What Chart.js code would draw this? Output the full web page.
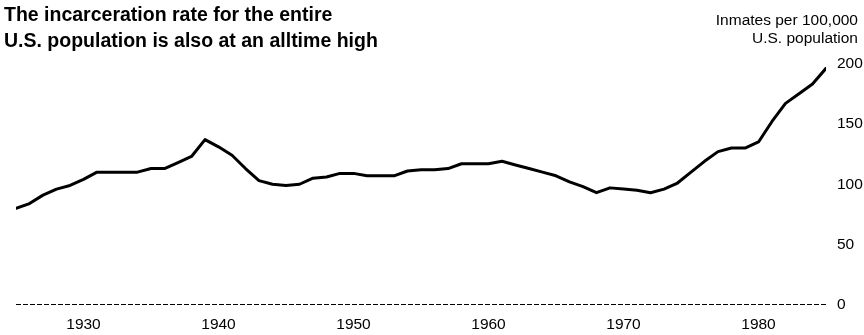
<!DOCTYPE html>
<html>
<head>
<meta charset="utf-8">
<script src="https://cdn.jsdelivr.net/npm/chart.js@4.4.1/dist/chart.umd.min.js"></script>
<style>
  html, body { margin: 0; padding: 0; background: #fff; }
  #wrap { position: relative; width: 864px; height: 335px; }
  #title {
    position: absolute; left: 4px; top: 1px;
    font: bold 19.5px "Liberation Sans", Arial, sans-serif;
    line-height: 26px; color: #000;
  }
  #unit {
    position: absolute; right: 6px; top: 10.5px; text-align: right;
    font: 15.5px "Liberation Sans", Arial, sans-serif;
    line-height: 18px; color: #000;
  }
</style>
</head>
<body>
<div id="wrap">
  <canvas id="rateChart" width="864" height="335"></canvas>
  <div id="title">The incarceration rate for the entire<br>U.S. population is also at an alltime high</div>
  <div id="unit">Inmates per 100,000<br>U.S. population</div>
</div>
<script>
// Inmates per 100,000 U.S. population
const years = [];
for (let y = 1925; y <= 1985; y++) years.push(y);
const rates = [
  80, 84, 91, 96, 99, 104, 110, 110, 110, 110,      // 1925-1934
  113, 113, 118, 123, 137, 131, 124, 113, 103, 100, // 1935-1944
  99, 100, 105, 106, 109, 109, 107, 107, 107, 111,  // 1945-1954
  112, 112, 113, 117, 117, 117, 119, 116, 113, 110, // 1955-1964
  107, 102, 98, 93, 97, 96, 95, 93, 96, 101,        // 1965-1974
  110, 119, 127, 130, 130, 135, 152, 167, 175, 183, // 1975-1984
  196                                               // 1985
];
const xTicks = [1930, 1940, 1950, 1960, 1970, 1980];
const yTicks = [0, 50, 100, 150, 200];

const lineData = years.map((yr, i) => ({ x: yr, y: rates[i] }));
const baseData = [{ x: 1925, y: 0 }, { x: 1985, y: 0 }];

const font = { family: "'Liberation Sans', Arial, sans-serif", size: 15.5 };

new Chart(document.getElementById('rateChart'), {
  type: 'line',
  data: {
    datasets: [
      {
        data: lineData,
        borderColor: '#000',
        borderWidth: 3,
        pointRadius: 0,
        tension: 0,
        borderJoinStyle: 'round',
        borderCapStyle: 'round'
      },
      {
        // dashed zero line
        data: baseData,
        borderColor: '#000',
        borderWidth: 2,
        borderDash: [5, 2],
        pointRadius: 0
      }
    ]
  },
  options: {
    responsive: false,
    animation: false,
    layout: { padding: { left: 16, right: 0, top: 63.5, bottom: 0 } },
    plugins: {
      legend: { display: false },
      tooltip: { enabled: false }
    },
    scales: {
      x: {
        type: 'linear',
        min: 1925,
        max: 1985,
        grid: { display: false, drawTicks: false },
        border: { display: false },
        afterBuildTicks: function (scale) {
          scale.ticks = xTicks.map(v => ({ value: v }));
        },
        afterFit: function (scale) { scale.height = 30; },
        ticks: {
          padding: 10,
          color: '#000',
          font: font,
          maxRotation: 0,
          autoSkip: false,
          callback: v => String(v)
        }
      },
      y: {
        position: 'right',
        min: 0,
        max: 200,
        grid: { display: false, drawTicks: false },
        border: { display: false },
        afterBuildTicks: function (scale) {
          scale.ticks = yTicks.map(v => ({ value: v }));
        },
        afterFit: function (scale) { scale.width = 38; },
        ticks: {
          padding: 11,
          color: '#000',
          font: font
        }
      }
    }
  }
});
</script>
</body>
</html>
